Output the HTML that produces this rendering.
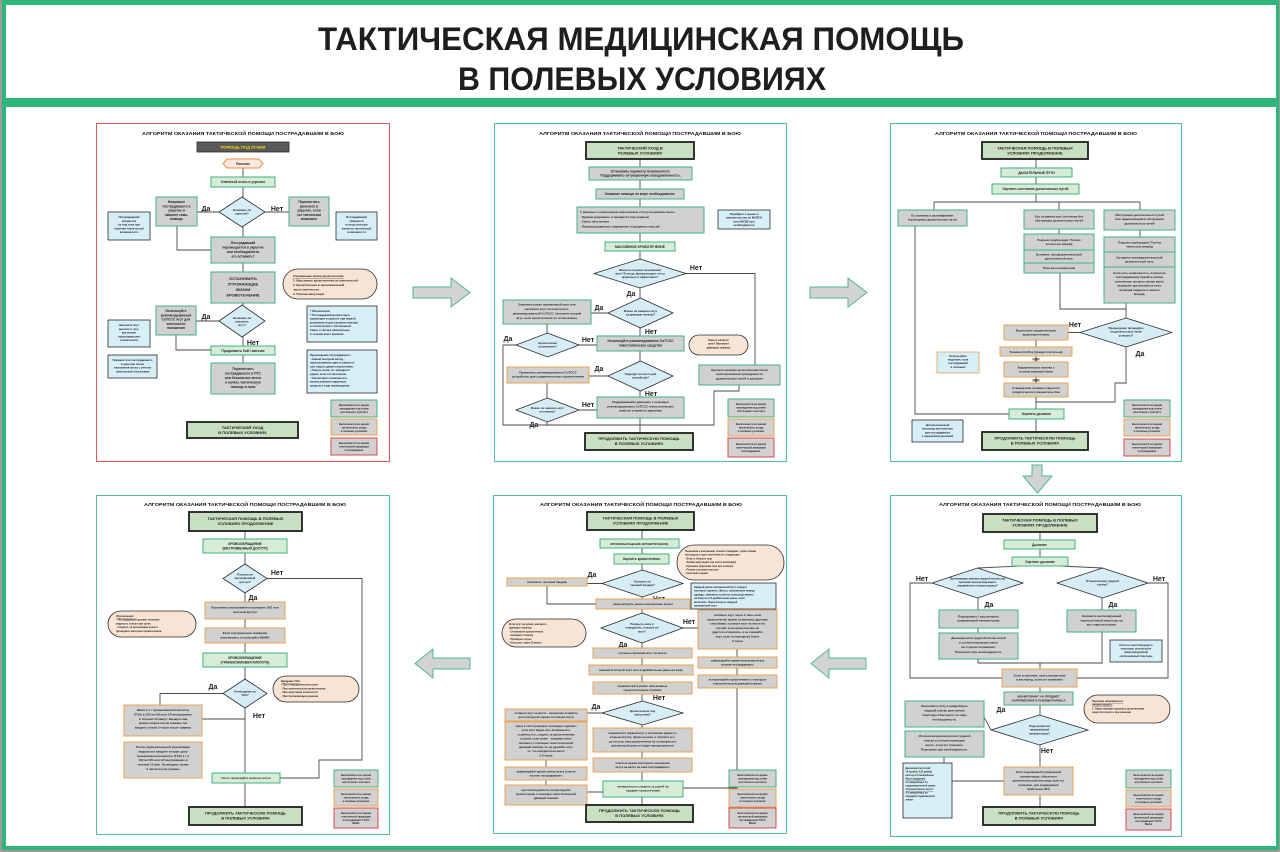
<!DOCTYPE html>
<html><head><meta charset="utf-8">
<style>
html,body{margin:0;padding:0;background:#9c9c9c;}
svg{display:block;}
text{font-family:"Liberation Sans",sans-serif;}
.pt{font-weight:bold;font-size:4.8px;fill:#111;text-anchor:middle;}
.s{font-weight:bold;font-size:3.3px;fill:#222;text-anchor:middle;}
.sl{font-weight:bold;font-size:3px;fill:#222;}
.h{font-weight:bold;font-size:4px;fill:#222;text-anchor:middle;}
.lb{font-weight:bold;font-size:7px;fill:#222;text-anchor:middle;}
.lg2{font-weight:bold;font-size:2.6px;fill:#222;text-anchor:middle;}
.g{fill:#d1d1d1;stroke:#3fb27e;stroke-width:1;}
.l{fill:#d6ecd7;stroke:#3fb27e;stroke-width:1;}
.hd{fill:#c8e0c1;stroke:#1e1e1e;stroke-width:1.8;}
.b{fill:#d6eef6;stroke:#2b2b2b;stroke-width:0.8;}
.o{fill:#d1d1d1;stroke:#eca154;stroke-width:1;}
.r{fill:#d1d1d1;stroke:#d94848;stroke-width:1;}
.d{fill:#d6edf5;stroke:#2b2b2b;stroke-width:0.8;}
.ov{fill:#f7e4d4;stroke:#2b2b2b;stroke-width:0.8;}
.ln{fill:none;stroke:#4a4a4a;stroke-width:0.9;}
.pn{fill:#fff;stroke:#55c29b;stroke-width:1;}
.ar{fill:#d3d3d3;stroke:#4fb98a;stroke-width:1;}
</style></head>
<body>
<svg width="1280" height="852" viewBox="0 0 1280 852" xmlns="http://www.w3.org/2000/svg">
<rect x="0" y="0" width="1280" height="852" fill="#9c9c9c"/>
<rect x="2" y="0" width="1277" height="850" fill="#2fb47b"/>
<rect x="6" y="5" width="1270" height="841" fill="#ffffff"/>
<rect x="2" y="98" width="1277" height="9" fill="#2fb47b"/>
<text x="641" y="50" font-size="32" font-weight="bold" fill="#1e1e1e" text-anchor="middle" textLength="646" lengthAdjust="spacingAndGlyphs">ТАКТИЧЕСКАЯ МЕДИЦИНСКАЯ ПОМОЩЬ</text>
<text x="642" y="90" font-size="32" font-weight="bold" fill="#1e1e1e" text-anchor="middle" textLength="368" lengthAdjust="spacingAndGlyphs">В ПОЛЕВЫХ УСЛОВИЯХ</text>

<!-- arrows between panels -->
<polygon class="ar" points="413,287 451,287 451,278 470,292.5 451,307 451,298 413,298"/>
<polygon class="ar" points="810,287 848,287 848,278 867,292.5 848,307 848,298 810,298"/>
<polygon class="ar" points="1032,465 1042,465 1042,476 1052,476 1037.5,493 1023,476 1032,476"/>
<polygon class="ar" points="866,658 829,658 829,649 811,663.5 829,678 829,669 866,669"/>
<polygon class="ar" points="470,658 433,658 433,649 415,663.5 433,678 433,669 470,669"/>

<!-- ================= PANEL 1 ================= -->
<g transform="translate(96,123)">
<rect x="0.5" y="0.5" width="293" height="338" fill="#fff" stroke="#e05858" stroke-width="1"/>
<text class="pt" x="147" y="12" textLength="202" lengthAdjust="spacingAndGlyphs">АЛГОРИТМ ОКАЗАНИЯ ТАКТИЧЕСКОЙ ПОМОЩИ ПОСТРАДАВШИМ В БОЮ</text>
<path class="ln" d="M147 45V54 M147 64V74 M147 104V114 M147 140V149 M147 180V182 M147 214V223 M147 232V240 M123 89H101 M169 89H193 M81 103V127H115 M123 198H100 M80 212V227H115"/>
<rect x="101" y="19" width="92" height="10" fill="#5a5a5a" stroke="#2a2a2a" stroke-width="0.8"/>
<text class="h" x="147" y="25.6" fill="#f3e300" style="fill:#f3e300">ПОМОЩЬ ПОД ОГНЕМ</text>
<polygon points="131,36 163,36 167,40.5 163,45 131,45 127,40.5" fill="#fbe9e0" stroke="#f08a4b" stroke-width="1"/>
<text class="s" x="147" y="41.8">Ранение</text>
<rect class="l" x="115" y="54" width="64" height="10"/>
<text class="s" x="147" y="60.2">Ответный огонь и укрытие</text>
<polygon class="d" points="146,74 169,89 146,104 123,89"/>
<text class="s" x="146" y="88" style="font-size:2.8px">Возможно ли</text><text class="s" x="146" y="91.5" style="font-size:2.8px">укрытие?</text>
<text class="lb" x="110" y="88">Да</text><text class="lb" x="181" y="88">Нет</text>
<rect class="g" x="60" y="74" width="41" height="29"/>
<text class="s" x="80.5" y="80"><tspan x="80.5">Направьте</tspan><tspan x="80.5" dy="4.3">пострадавшего в</tspan><tspan x="80.5" dy="4.3">укрытие и</tspan><tspan x="80.5" dy="4.3">окажите само-</tspan><tspan x="80.5" dy="4.3">помощь</tspan></text>
<rect class="g" x="193" y="74" width="40" height="29"/>
<text class="s" x="213" y="80"><tspan x="213">Переместить</tspan><tspan x="213" dy="4.3">раненого в</tspan><tspan x="213" dy="4.3">укрытие, если</tspan><tspan x="213" dy="4.3">это тактически</tspan><tspan x="213" dy="4.3">возможно</tspan></text>
<rect class="b" x="12" y="89" width="42" height="28"/>
<text class="s" x="33" y="95" style="font-size:2.8px"><tspan x="33">Пострадавший</tspan><tspan x="33" dy="3.8">убирается</tspan><tspan x="33" dy="3.8">из-под огня при</tspan><tspan x="33" dy="3.8">наличии тактической</tspan><tspan x="33" dy="3.8">возможности</tspan></text>
<rect class="b" x="240" y="89" width="41" height="28"/>
<text class="s" x="260.5" y="95" style="font-size:2.8px"><tspan x="260.5">Пострадавший</tspan><tspan x="260.5" dy="3.8">убирается</tspan><tspan x="260.5" dy="3.8">из-под огня при</tspan><tspan x="260.5" dy="3.8">наличии тактической</tspan><tspan x="260.5" dy="3.8">возможности</tspan></text>
<rect class="g" x="115" y="114" width="64" height="26"/>
<text class="s" x="147" y="121"><tspan x="147">Пострадавший</tspan><tspan x="147" dy="4.5">перемещается в укрытие</tspan><tspan x="147" dy="4.5">или необходимости</tspan><tspan x="147" dy="4.5">его оставить?</tspan></text>
<rect class="g" x="115" y="149" width="64" height="31"/>
<text class="h" x="147" y="157"><tspan x="147">ОСТАНОВИТЬ</tspan><tspan x="147" dy="5.5">УГРОЖАЮЩЕЕ</tspan><tspan x="147" dy="5.5">ЖИЗНИ</tspan><tspan x="147" dy="5.5">КРОВОТЕЧЕНИЕ</tspan></text>
<rect class="ov" x="187" y="146" width="94" height="30" rx="15"/>
<text class="sl" x="197" y="154"><tspan x="197" text-decoration="underline">Угрожающее жизни кровотечение:</tspan><tspan x="197" dy="4.5">1. Массивное кровотечение из конечностей</tspan><tspan x="197" dy="4.5">2. Кровотечение в проксимальной</tspan><tspan x="197" dy="4.5">части конечности</tspan><tspan x="197" dy="4.5">3. Полная ампутация</tspan></text>
<polygon class="d" points="146,182 169,198 146,214 123,198"/>
<text class="s" x="146" y="196" style="font-size:2.8px"><tspan x="146">Возможно ли</tspan><tspan x="146" dy="3.6">наложить</tspan><tspan x="146" dy="3.6">жгут?</tspan></text>
<text class="lb" x="110" y="196">Да</text><text class="lb" x="157" y="222">Нет</text>
<rect class="g" x="60" y="183" width="40" height="29"/>
<text class="s" x="80" y="189"><tspan x="80">Используйте</tspan><tspan x="80" dy="4.3">рекомендованный</tspan><tspan x="80" dy="4.3">CoTCCC жгут для</tspan><tspan x="80" dy="4.3">конечности</tspan><tspan x="80" dy="4.3">наложения</tspan></text>
<rect class="b" x="12" y="197" width="42" height="27"/>
<text class="s" x="33" y="203" style="font-size:2.8px"><tspan x="33">Наложите жгут</tspan><tspan x="33" dy="3.8">высоко и туго,</tspan><tspan x="33" dy="3.8">как можно</tspan><tspan x="33" dy="3.8">проксимальнее</tspan><tspan x="33" dy="3.8">к конечности</tspan></text>
<rect class="b" x="12" y="232" width="49" height="23"/>
<text class="s" x="36.5" y="238" style="font-size:2.8px"><tspan x="36.5">Переместите пострадавшего</tspan><tspan x="36.5" dy="3.8">в укрытие после</tspan><tspan x="36.5" dy="3.8">наложения жгута с учётом</tspan><tspan x="36.5" dy="3.8">тактической обстановки</tspan></text>
<rect class="b" x="211" y="183" width="70" height="36"/>
<text class="sl" x="214" y="189" style="font-size:2.7px"><tspan x="214">* Обозначения:</tspan><tspan x="214" dy="3.8">* Пострадавший должен быть</tspan><tspan x="214" dy="3.8">перемещен в укрытие при первой</tspan><tspan x="214" dy="3.8">возможности для оказания помощи</tspan><tspan x="214" dy="3.8">в соответствии с обстановкой.</tspan><tspan x="214" dy="3.8">Связь и тактика обязательны</tspan><tspan x="214" dy="3.8">в течение всего времени.</tspan></text>
<rect class="b" x="211" y="227" width="70" height="43"/>
<text class="sl" x="214" y="233" style="font-size:2.7px"><tspan x="214">Перемещение пострадавшего:</tspan><tspan x="214" dy="3.8">- Самый быстрый метод -</tspan><tspan x="214" dy="3.8">перетаскивание одного раненого</tspan><tspan x="214" dy="3.8">или тащить двумя спасателями.</tspan><tspan x="214" dy="3.8">- Помочь всем, кто находится</tspan><tspan x="214" dy="3.8">рядом, если это безопасно.</tspan><tspan x="214" dy="3.8">- Рассмотрите возможность</tspan><tspan x="214" dy="3.8">использования подручных</tspan><tspan x="214" dy="3.8">средств в ходе перемещения.</tspan></text>
<rect class="l" x="115" y="223" width="64" height="9"/>
<text class="s" x="147" y="228.8">Продолжить бой / миссию</text>
<rect class="g" x="115" y="240" width="64" height="31"/>
<text class="s" x="147" y="247"><tspan x="147">Переместить</tspan><tspan x="147" dy="4.5">пострадавшего в ПТС</tspan><tspan x="147" dy="4.5">или безопасное место</tspan><tspan x="147" dy="4.5">и начать тактическую</tspan><tspan x="147" dy="4.5">помощь в поле</tspan></text>
<rect class="g" x="235" y="277" width="46" height="17"/>
<text class="lg2" x="258" y="283"><tspan x="258">Выполняется во время</tspan><tspan x="258" dy="3.4">нахождения под огнём</tspan><tspan x="258" dy="3.4">или боевого контакта</tspan></text>
<rect class="o" x="235" y="296" width="46" height="16"/>
<text class="lg2" x="258" y="302"><tspan x="258">Выполняется во время</tspan><tspan x="258" dy="3.4">тактического ухода</tspan><tspan x="258" dy="3.4">в полевых условиях</tspan></text>
<rect class="r" x="235" y="315" width="46" height="17"/>
<text class="lg2" x="258" y="321"><tspan x="258">Выполняется во время</tspan><tspan x="258" dy="3.4">тактической эвакуации</tspan><tspan x="258" dy="3.4">пострадавших</tspan></text>
<rect class="hd" x="91" y="299" width="111" height="16"/>
<text class="h" x="146.5" y="306"><tspan x="146.5">ТАКТИЧЕСКИЙ УХОД</tspan><tspan x="146.5" dy="5">В ПОЛЕВЫХ УСЛОВИЯХ</tspan></text>
</g>

<!-- ================= PANEL 2 ================= -->
<g transform="translate(494,123)">
<rect class="pn" x="0.5" y="0.5" width="292" height="338"/>
<text class="pt" x="146" y="12" textLength="202" lengthAdjust="spacingAndGlyphs">АЛГОРИТМ ОКАЗАНИЯ ТАКТИЧЕСКОЙ ПОМОЩИ ПОСТРАДАВШИМ В БОЮ</text>
<path class="ln" d="M146 36V44 M146 57V66 M146 76V84 M146 110V119 M146 128V136 M146 165V175 M146 205V213 M146 228V238 M146 268V274 M146 295V310 M192 150.5H261V242 M114 190H97 M53 201V210 M85 222H103 M22 222H9V302H146 M114 253H95 M53 260V275 M85 287H103 M53 299V302 M245 262V268H220V302H146"/>
<rect class="hd" x="92" y="19" width="108" height="17"/>
<text class="h" x="146" y="26.5"><tspan x="146">ТАКТИЧЕСКИЙ УХОД В</tspan><tspan x="146" dy="5">ПОЛЕВЫХ УСЛОВИЯХ</tspan></text>
<rect class="g" x="95" y="44" width="103" height="13"/>
<text class="s" x="146.5" y="49.5"><tspan x="146.5">Установить периметр безопасности.</tspan><tspan x="146.5" dy="4.2">Поддерживать ситуационную осведомленность.</tspan></text>
<rect class="g" x="102" y="66" width="88" height="10"/>
<text class="s" x="146" y="72.2">Оказание помощи по мере необходимости.</text>
<rect class="g" x="83" y="84" width="127" height="26"/>
<text class="sl" x="86" y="90"><tspan x="86">У раненых с измененным психическим статусом должны быть:</tspan><tspan x="86" dy="4.8">- Оружие разряжено и находится под охраной</tspan><tspan x="86" dy="4.8">- Связь обеспечена</tspan><tspan x="86" dy="4.8">- Перераспределено снаряжение и предметы миссий</tspan></text>
<rect class="b" x="224" y="87" width="52" height="19"/>
<text class="s" x="250" y="92" style="font-size:2.7px"><tspan x="250">Перейдите к оценке и</tspan><tspan x="250" dy="3.7">вмешательству по MARCH</tspan><tspan x="250" dy="3.7">или ABCDE при</tspan><tspan x="250" dy="3.7">необходимости</tspan></text>
<rect class="l" x="111" y="119" width="70" height="9"/>
<text class="s" x="146" y="124.8">МАССИВНОЕ КРОВОТЕЧЕНИЕ</text>
<polygon class="d" points="146,136 192,150.5 146,165 100,150.5"/>
<text class="s" x="146" y="148" style="font-size:2.7px"><tspan x="146">Имеется ли ранее наложенный</tspan><tspan x="146" dy="3.6">жгут? Если да, функционирует ли он</tspan><tspan x="146" dy="3.6">правильно и эффективно?</tspan></text>
<text class="lb" x="202" y="147">Нет</text><text class="lb" x="137" y="173">Да</text>
<polygon class="d" points="146.5,175 179,190 146.5,205 114,190"/>
<text class="s" x="146.5" y="189" style="font-size:2.7px"><tspan x="146.5">Можно ли заменить жгут</tspan><tspan x="146.5" dy="3.6">на давящую повязку?</tspan></text>
<text class="lb" x="105" y="187">Да</text><text class="lb" x="157" y="211">Нет</text>
<rect class="g" x="9" y="177" width="88" height="24"/>
<text class="s" x="53" y="182.5" style="font-size:3px"><tspan x="53">Замените ранее наложенный жгут или</tspan><tspan x="53" dy="4.5">наложите жгут на конечность,</tspan><tspan x="53" dy="4.5">рекомендованный CoTCCC. Наложите второй</tspan><tspan x="53" dy="4.5">жгут, если кровотечение не остановлено.</tspan></text>
<polygon class="d" points="53.5,210 85,222 53.5,234 22,222"/>
<text class="s" x="53.5" y="221" style="font-size:2.7px"><tspan x="53.5">Кровотечение</tspan><tspan x="53.5" dy="3.6">остановлено?</tspan></text>
<text class="lb" x="14" y="218">Да</text><text class="lb" x="94" y="219">Нет</text>
<rect class="g" x="103" y="213" width="87" height="15"/>
<text class="s" x="146.5" y="219"><tspan x="146.5">Используйте рекомендованное CoTCCC</tspan><tspan x="146.5" dy="4.3">гемостатическое средство</tspan></text>
<rect class="ov" x="195" y="212" width="59" height="20" rx="10"/>
<text class="s" x="224.5" y="218" style="font-size:2.7px"><tspan x="224.5">Рана в области</tspan><tspan x="224.5" dy="3.7">шеи? Наложите</tspan><tspan x="224.5" dy="3.7">давящую повязку</tspan></text>
<polygon class="d" points="146.5,238 179,253 146.5,268 114,253"/>
<text class="s" x="146.5" y="252" style="font-size:2.7px"><tspan x="146.5">Подходит ли место для</tspan><tspan x="146.5" dy="3.6">устройства?</tspan></text>
<text class="lb" x="105" y="248">Да</text><text class="lb" x="157" y="273">Нет</text>
<rect class="o" x="13" y="244" width="82" height="16"/>
<text class="s" x="54" y="250.5" style="font-size:3px"><tspan x="54">Применить рекомендованное CoTCCC</tspan><tspan x="54" dy="4.2">устройство для соединительного кровотечения</tspan></text>
<rect class="g" x="205" y="242" width="81" height="20"/>
<text class="s" x="245.5" y="248" style="font-size:3px"><tspan x="245.5">Оцените наличие кровотечения после</tspan><tspan x="245.5" dy="4.2">восстановления проходимости</tspan><tspan x="245.5" dy="4.2">дыхательных путей и дыхания</tspan></text>
<polygon class="d" points="53.5,275 85,287 53.5,299 22,287"/>
<text class="s" x="53.5" y="286" style="font-size:2.7px"><tspan x="53.5">Можно ли заменить жгут</tspan><tspan x="53.5" dy="3.6">на повязку?</tspan></text>
<text class="lb" x="94" y="284">Нет</text><text class="lb" x="40" y="304">Да</text>
<rect class="g" x="103" y="274" width="87" height="21"/>
<text class="s" x="146.5" y="280" style="font-size:3px"><tspan x="146.5">Поддерживайте давление с помощью</tspan><tspan x="146.5" dy="4.3">рекомендованных CoTCCC гемостатических</tspan><tspan x="146.5" dy="4.3">повязок и прямого давления</tspan></text>
<rect class="g" x="234" y="276" width="46" height="18"/>
<text class="lg2" x="257" y="282"><tspan x="257">Выполняется во время</tspan><tspan x="257" dy="3.4">нахождения под огнём</tspan><tspan x="257" dy="3.4">или боевого контакта</tspan></text>
<rect class="o" x="234" y="296" width="46" height="17"/>
<text class="lg2" x="257" y="302"><tspan x="257">Выполняется во время</tspan><tspan x="257" dy="3.4">тактического ухода</tspan><tspan x="257" dy="3.4">в полевых условиях</tspan></text>
<rect class="r" x="234" y="315" width="46" height="19"/>
<text class="lg2" x="257" y="322"><tspan x="257">Выполняется во время</tspan><tspan x="257" dy="3.4">тактической эвакуации</tspan><tspan x="257" dy="3.4">пострадавших</tspan></text>
<rect class="hd" x="91" y="310" width="108" height="17"/>
<text class="h" x="145" y="317.2"><tspan x="145">ПРОДОЛЖИТЬ ТАКТИЧЕСКУЮ ПОМОЩЬ</tspan><tspan x="145" dy="5">В ПОЛЕВЫХ УСЛОВИЯХ</tspan></text>
</g>

<!-- ================= PANEL 3 ================= -->
<g transform="translate(890,123)">
<rect class="pn" x="0.5" y="0.5" width="291" height="338"/>
<text class="pt" x="146" y="12" textLength="202" lengthAdjust="spacingAndGlyphs">АЛГОРИТМ ОКАЗАНИЯ ТАКТИЧЕСКОЙ ПОМОЩИ ПОСТРАДАВШИМ В БОЮ</text>
<path class="ln" d="M146 36V45 M146 54V61 M146 71V79 M44 79H250 M44 79V87 M169 79V87 M250 79V87 M169 106V111 M250 107V114 M170 150V186H236 M236 180V195 M190 209.5H178 M146 217V224 M146 233V239 M146 254V260 M146 274V286 M236 224V260H225V279H146 M25 103V291H119 M146 296V309"/>
<rect class="hd" x="92" y="19" width="106" height="17"/>
<text class="h" x="145" y="26.5"><tspan x="145">ТАКТИЧЕСКАЯ ПОМОЩЬ В ПОЛЕВЫХ</tspan><tspan x="145" dy="5">УСЛОВИЯХ ПРОДОЛЖЕНИЕ</tspan></text>
<rect class="l" x="111" y="45" width="71" height="9"/>
<text class="s" x="146.5" y="50.8">ДЫХАТЕЛЬНЫЕ ПУТИ</text>
<rect class="l" x="102" y="61" width="87" height="10"/>
<text class="s" x="145.5" y="67.2">Оценить состояние дыхательных путей</text>
<rect class="g" x="8" y="87" width="69" height="16"/>
<text class="s" x="42.5" y="93.5" style="font-size:3px"><tspan x="42.5">В сознании и разговаривает</tspan><tspan x="42.5" dy="4.2">(проходимы дыхательные пути)</tspan></text>
<rect class="g" x="134" y="87" width="70" height="19"/>
<text class="s" x="169" y="94.5" style="font-size:3px"><tspan x="169">Без сознания или состояние без</tspan><tspan x="169" dy="4.2">обструкции дыхательных путей</tspan></text>
<rect class="g" x="214" y="87" width="71" height="20"/>
<text class="s" x="249.5" y="93" style="font-size:3px"><tspan x="249.5">Обструкция дыхательных путей</tspan><tspan x="249.5" dy="4.2">или надвигающаяся обструкция</tspan><tspan x="249.5" dy="4.2">дыхательных путей</tspan></text>
<rect class="g" x="134" y="111" width="70" height="16"/>
<rect class="g" x="134" y="127" width="70" height="13"/>
<rect class="g" x="134" y="140" width="70" height="10"/>
<text class="s" x="169" y="118" style="font-size:3px"><tspan x="169">Подъем подбородка / Толчок</tspan><tspan x="169" dy="4">челюстью вперёд</tspan></text>
<text class="s" x="169" y="132.5" style="font-size:3px"><tspan x="169">Вставить назофарингеальный</tspan><tspan x="169" dy="4">дыхательный путь</tspan></text>
<text class="s" x="169" y="146" style="font-size:3px">Поза восстановления</text>
<rect class="g" x="214" y="114" width="71" height="15"/>
<rect class="g" x="214" y="129" width="71" height="15"/>
<rect class="g" x="214" y="144" width="71" height="36"/>
<text class="s" x="249.5" y="120.5" style="font-size:3px"><tspan x="249.5">Подъем подбородка / Толчок</tspan><tspan x="249.5" dy="4">челюстью вперёд</tspan></text>
<text class="s" x="249.5" y="135.5" style="font-size:3px"><tspan x="249.5">Вставить назофарингеальный</tspan><tspan x="249.5" dy="4">дыхательный путь</tspan></text>
<text class="s" x="249.5" y="151" style="font-size:3px"><tspan x="249.5">Если есть возможность, позвольте</tspan><tspan x="249.5" dy="4.2">пострадавшему принять любое</tspan><tspan x="249.5" dy="4.2">положение, которое лучше всего</tspan><tspan x="249.5" dy="4.2">защищает дыхательные пути,</tspan><tspan x="249.5" dy="4.2">включая сидение и наклон</tspan><tspan x="249.5" dy="4.2">вперёд.</tspan></text>
<polygon class="d" points="236,195 282,209.5 236,224 190,209.5"/>
<text class="s" x="236" y="206" style="font-size:2.8px"><tspan x="236">Предыдущие процедуры</tspan><tspan x="236" dy="3.7">на дыхательных путях</tspan><tspan x="236" dy="3.7">успешны?</tspan></text>
<text class="lb" x="185" y="204">Нет</text><text class="lb" x="250" y="233">Да</text>
<rect class="o" x="114" y="202" width="64" height="15"/>
<text class="s" x="146" y="208.5" style="font-size:3px"><tspan x="146">Выполните хирургическую</tspan><tspan x="146" dy="4">крикотиреотомию</tspan></text>
<rect class="o" x="110" y="224" width="72" height="9"/>
<text class="s" x="146" y="229.8" style="font-size:3px">Техника CricKey (предпочтительна)</text>
<text class="s" x="146" y="237.5">ИЛИ</text>
<rect class="o" x="114" y="239" width="64" height="15"/>
<text class="s" x="146" y="245.5" style="font-size:3px"><tspan x="146">Хирургическая техника с</tspan><tspan x="146" dy="4">использованием бужа</tspan></text>
<text class="s" x="146" y="258.5">ИЛИ</text>
<rect class="o" x="114" y="260" width="64" height="14"/>
<text class="s" x="146" y="266" style="font-size:3px"><tspan x="146">Стандартная техника открытого</tspan><tspan x="146" dy="4">хирургического вмешательства</tspan></text>
<rect x="47" y="229" width="42" height="21" fill="#d6eef6" stroke="#eca154" stroke-width="0.8"/>
<text class="s" x="68" y="234" style="font-size:2.7px"><tspan x="68">Используйте</tspan><tspan x="68" dy="3.6">лидокаин, если</tspan><tspan x="68" dy="3.6">пострадавший</tspan><tspan x="68" dy="3.6">в сознании</tspan></text>
<rect class="l" x="119" y="286" width="55" height="10"/>
<text class="s" x="146.5" y="292.2">Оценить дыхание</text>
<rect class="b" x="22" y="297" width="51" height="22"/>
<text class="s" x="47.5" y="303" style="font-size:2.7px"><tspan x="47.5">Дополнительный</tspan><tspan x="47.5" dy="3.7">кислород при наличии</tspan><tspan x="47.5" dy="3.7">для пострадавших</tspan><tspan x="47.5" dy="3.7">с нарушением дыхания</tspan></text>
<rect class="g" x="234" y="277" width="46" height="17"/>
<text class="lg2" x="257" y="283"><tspan x="257">Выполняется во время</tspan><tspan x="257" dy="3.4">нахождения под огнём</tspan><tspan x="257" dy="3.4">или боевого контакта</tspan></text>
<rect class="o" x="234" y="296" width="46" height="17"/>
<text class="lg2" x="257" y="302"><tspan x="257">Выполняется во время</tspan><tspan x="257" dy="3.4">тактического ухода</tspan><tspan x="257" dy="3.4">в полевых условиях</tspan></text>
<rect class="r" x="234" y="316" width="46" height="17"/>
<text class="lg2" x="257" y="322"><tspan x="257">Выполняется во время</tspan><tspan x="257" dy="3.4">тактической эвакуации</tspan><tspan x="257" dy="3.4">пострадавших</tspan></text>
<rect class="hd" x="92" y="309" width="106" height="18"/>
<text class="h" x="145" y="316.5"><tspan x="145">ПРОДОЛЖИТЬ ТАКТИЧЕСКУЮ ПОМОЩЬ</tspan><tspan x="145" dy="5">В ПОЛЕВЫХ УСЛОВИЯХ</tspan></text>
</g>

<!-- ================= PANEL 4 ================= -->
<g transform="translate(96,495)">
<rect class="pn" x="0.5" y="0.5" width="293" height="339"/>
<text class="pt" x="149" y="11" textLength="202" lengthAdjust="spacingAndGlyphs">АЛГОРИТМ ОКАЗАНИЯ ТАКТИЧЕСКОЙ ПОМОЩИ ПОСТРАДАВШИМ В БОЮ</text>
<path class="ln" d="M149 36V44 M149 58V69 M149 98V107 M149 124V133 M149 148V158 M149 172V184 M149 213V278 M149 288V312 M171 83.5H266V265H223V283H184 M127 198.5H64V210 M106 224H149"/>
<rect class="hd" x="93" y="17" width="113" height="19"/>
<text class="h" x="149.5" y="25"><tspan x="149.5">ТАКТИЧЕСКАЯ ПОМОЩЬ В ПОЛЕВЫХ</tspan><tspan x="149.5" dy="5">УСЛОВИЯХ ПРОДОЛЖЕНИЕ</tspan></text>
<rect class="l" x="107" y="44" width="84" height="14"/>
<text class="s" x="149" y="50"><tspan x="149">КРОВООБРАЩЕНИЕ</tspan><tspan x="149" dy="4.3">(ВНУТРИВЕННЫЙ ДОСТУП)</tspan></text>
<polygon class="d" points="149,69 171,83.5 149,98 127,83.5"/>
<text class="s" x="149" y="80.5" style="font-size:2.8px"><tspan x="149">Показан ли</tspan><tspan x="149" dy="3.7">внутривенный</tspan><tspan x="149" dy="3.7">доступ?</tspan></text>
<text class="lb" x="181" y="80">Нет</text><text class="lb" x="157" y="105">Да</text>
<rect class="o" x="109" y="107" width="80" height="17"/>
<text class="s" x="149" y="113.5" style="font-size:3px"><tspan x="149">Выполнить внутривенное вливание 18G или</tspan><tspan x="149" dy="4.3">костный доступ</tspan></text>
<rect class="ov" x="12" y="116" width="88" height="26" rx="13"/>
<text class="sl" x="20" y="122" style="font-size:2.6px"><tspan x="20" text-decoration="underline">Обозначения:</tspan><tspan x="20" dy="3.7">- Пострадавший должен получать</tspan><tspan x="20" dy="3.7">жидкость только при шоке.</tspan><tspan x="20" dy="3.7">- Следить за признаками шока и</tspan><tspan x="20" dy="3.7">проводить контроль кровотечения.</tspan></text>
<rect class="o" x="109" y="133" width="80" height="15"/>
<text class="s" x="149" y="139" style="font-size:3px"><tspan x="149">Если внутривенное вливание</tspan><tspan x="149" dy="4.3">невозможно, используйте ВК/ИО</tspan></text>
<rect class="l" x="107" y="158" width="84" height="14"/>
<text class="s" x="149" y="164"><tspan x="149">КРОВООБРАЩЕНИЕ</tspan><tspan x="149" dy="4.3">(ТРАНЕКСАМОВАЯ КИСЛОТА)</tspan></text>
<rect class="ov" x="177" y="181" width="86" height="26" rx="13"/>
<text class="sl" x="185" y="187" style="font-size:2.6px"><tspan x="185" text-decoration="underline">Введение ТХА:</tspan><tspan x="185" dy="3.7">- При геморрагическом шоке</tspan><tspan x="185" dy="3.7">- При значительном кровотечении</tspan><tspan x="185" dy="3.7">- При ампутации конечности</tspan><tspan x="185" dy="3.7">- При проникающем ранении</tspan></text>
<polygon class="d" points="149,184 171,198.5 149,213 127,198.5"/>
<text class="s" x="149" y="197.5" style="font-size:2.8px"><tspan x="149">Необходима ли</tspan><tspan x="149" dy="3.7">ТХА?</tspan></text>
<text class="lb" x="117" y="194">Да</text><text class="lb" x="163" y="223">Нет</text>
<rect class="o" x="28" y="210" width="78" height="31"/>
<text class="s" x="67" y="216" style="font-size:3px"><tspan x="67">Ввести 1 г транексамовой кислоты</tspan><tspan x="67" dy="4.4">(ТХА) в 100 мл NS или LR внутривенно</tspan><tspan x="67" dy="4.4">в течение 10 минут. Вводить как</tspan><tspan x="67" dy="4.4">можно скорее после травмы. Не</tspan><tspan x="67" dy="4.4">вводить позже 3 часов после травмы</tspan></text>
<rect class="o" x="28" y="247" width="78" height="36"/>
<text class="s" x="67" y="253" style="font-size:3px"><tspan x="67">После первоначальной реанимации</tspan><tspan x="67" dy="4.4">жидкостью введите вторую дозу</tspan><tspan x="67" dy="4.4">транексамовой кислоты (ТХА) 1 г в</tspan><tspan x="67" dy="4.4">100 мл NS или LR внутривенно в</tspan><tspan x="67" dy="4.4">течение 10 мин. Не вводить позже</tspan><tspan x="67" dy="4.4">3 часов после травмы</tspan></text>
<rect class="l" x="116" y="278" width="68" height="10"/>
<text class="s" x="150" y="284.2" style="font-size:3px">Часто проверяйте наличие жгута</text>
<rect class="g" x="238" y="275" width="44" height="17"/>
<text class="lg2" x="260" y="281"><tspan x="260">Выполняется во время</tspan><tspan x="260" dy="3.4">нахождения под огнём</tspan><tspan x="260" dy="3.4">или боевого контакта</tspan></text>
<rect class="o" x="238" y="294" width="44" height="17"/>
<text class="lg2" x="260" y="300"><tspan x="260">Выполняется во время</tspan><tspan x="260" dy="3.4">тактического ухода</tspan><tspan x="260" dy="3.4">в полевых условиях</tspan></text>
<rect class="r" x="238" y="313" width="44" height="20"/>
<text class="lg2" x="260" y="319"><tspan x="260">Выполняется во время</tspan><tspan x="260" dy="3.4">тактической эвакуации</tspan><tspan x="260" dy="3.4">пострадавших TCCC</tspan><tspan x="260" dy="3.4">Medic</tspan></text>
<rect class="hd" x="93" y="312" width="113" height="18"/>
<text class="h" x="149.5" y="319.5"><tspan x="149.5">ПРОДОЛЖИТЬ ТАКТИЧЕСКУЮ ПОМОЩЬ</tspan><tspan x="149.5" dy="5">В ПОЛЕВЫХ УСЛОВИЯХ</tspan></text>
</g>

<!-- ================= PANEL 5 ================= -->
<g transform="translate(493,495)">
<rect class="pn" x="0.5" y="0.5" width="293" height="338"/>
<text class="pt" x="148" y="11" textLength="202" lengthAdjust="spacingAndGlyphs">АЛГОРИТМ ОКАЗАНИЯ ТАКТИЧЕСКОЙ ПОМОЩИ ПОСТРАДАВШИМ В БОЮ</text>
<path class="ln" d="M149 35V44 M149 53V59 M149 69V75 M149 102V104 M149 114V118 M149 148V153 M149 163V170 M149 180V187 M149 199V206 M149 230V233 M149 257V263 M149 277V286 M149 302V310 M109 88.5H94 M54 91V109H103 M190 133H205 M244 154V162 M244 173V180 M244 193V293H190 M109 218H94 M53 226V227 M53 265V272 M53 285V290 M94 297H110"/>
<rect class="hd" x="94" y="17" width="107" height="18"/>
<text class="h" x="147.5" y="24.5"><tspan x="147.5">ТАКТИЧЕСКАЯ ПОМОЩЬ В ПОЛЕВЫХ</tspan><tspan x="147.5" dy="5">УСЛОВИЯХ ПРОДОЛЖЕНИЕ</tspan></text>
<rect class="l" x="107" y="44" width="79" height="9"/>
<text class="s" x="146.5" y="49.8" style="font-size:3px">КРОВООБРАЩЕНИЕ (КРОВОТЕЧЕНИЕ)</text>
<rect class="l" x="121" y="59" width="55" height="10"/>
<text class="s" x="148.5" y="65.2">Оценить кровотечение</text>
<rect class="ov" x="184" y="50" width="107" height="35" rx="17"/>
<text class="sl" x="192" y="57" style="font-size:2.5px"><tspan x="192">Показания к наложению тазового бандажа: тупая травма</tspan><tspan x="192" dy="3.7">или взрыв и одно или более из следующих:</tspan><tspan x="192" dy="3.7">- Боль в области таза</tspan><tspan x="192" dy="3.7">- Любая ампутация или почти ампутация</tspan><tspan x="192" dy="3.7">- Признаки перелома таза при осмотре</tspan><tspan x="192" dy="3.7">- Потеря сознания или шок</tspan><tspan x="192" dy="3.7">- Неполная оценка</tspan></text>
<polygon class="d" points="149.5,75 190,88.5 149.5,102 109,88.5"/>
<text class="s" x="149.5" y="87.5" style="font-size:2.8px"><tspan x="149.5">Наложен ли</tspan><tspan x="149.5" dy="3.7">тазовый бандаж?</tspan></text>
<text class="lb" x="99" y="82">Да</text><text class="lb" x="166" y="106">Нет</text>
<rect class="o" x="14" y="83" width="80" height="8"/>
<text class="s" x="54" y="88.2" style="font-size:3px">наложить тазовый бандаж</text>
<rect class="b" x="198" y="88" width="85" height="26"/>
<text class="sl" x="201" y="93" style="font-size:2.6px"><tspan x="201">Каждый ранее наложенный жгут следует</tspan><tspan x="201" dy="3.7">повторно оценить. Жгуты, наложенные поверх</tspan><tspan x="201" dy="3.7">одежды, заменить на жгуты непосредственно</tspan><tspan x="201" dy="3.7">на кожу на 2-3 дюйма выше раны, если</tspan><tspan x="201" dy="3.7">возможно. Пересмотреть каждый</tspan><tspan x="201" dy="3.7">наложенный жгут.</tspan></text>
<rect class="o" x="103" y="104" width="94" height="10"/>
<text class="s" x="150" y="110.2" style="font-size:3px">пересмотреть ранее наложенные жгуты</text>
<rect class="ov" x="9" y="124" width="84" height="28" rx="14"/>
<text class="sl" x="16" y="130" style="font-size:2.5px"><tspan x="16">Если жгут не нужен, наложите</tspan><tspan x="16" dy="3.7">давящую повязку:</tspan><tspan x="16" dy="3.7">- Остановите кровотечение</tspan><tspan x="16" dy="3.7">- Наложите повязку</tspan><tspan x="16" dy="3.7">- Проверьте пульс</tspan><tspan x="16" dy="3.7">- Контроль через 15 минут</tspan></text>
<polygon class="d" points="149,118 190,133 149,148 108,133"/>
<text class="s" x="149" y="130" style="font-size:2.8px"><tspan x="149">Раскрыть рану и</tspan><tspan x="149" dy="3.7">определить, показан ли</tspan><tspan x="149" dy="3.7">жгут?</tspan></text>
<text class="lb" x="196" y="129">Нет</text><text class="lb" x="130" y="152">Да</text>
<rect class="o" x="205" y="115" width="79" height="39"/>
<text class="s" x="244.5" y="121" style="font-size:2.9px"><tspan x="244.5">ослабьте жгут через 2 часа, если</tspan><tspan x="244.5" dy="4.3">кровотечение можно остановить другими</tspan><tspan x="244.5" dy="4.3">способами, оставьте жгут на месте на</tspan><tspan x="244.5" dy="4.3">случай, если кровотечение не</tspan><tspan x="244.5" dy="4.3">удастся остановить, и не снимайте</tspan><tspan x="244.5" dy="4.3">жгут, если он находится более</tspan><tspan x="244.5" dy="4.3">6 часов</tspan></text>
<rect class="o" x="100" y="153" width="99" height="10"/>
<text class="s" x="149.5" y="159.2" style="font-size:3px">оставьте прежний жгут на месте</text>
<rect class="o" x="96" y="170" width="104" height="10"/>
<text class="s" x="148" y="176.2" style="font-size:3px">наложите второй жгут на 2-3 дюйма выше раны на кожу</text>
<rect class="o" x="100" y="187" width="99" height="12"/>
<text class="s" x="149.5" y="192" style="font-size:3px"><tspan x="149.5">пересмотрите ранее наложенные</tspan><tspan x="149.5" dy="4">гемостатические повязки</tspan></text>
<rect class="o" x="205" y="162" width="79" height="11"/>
<text class="s" x="244.5" y="166.5" style="font-size:2.8px"><tspan x="244.5">зафиксируйте время наложения жгута</tspan><tspan x="244.5" dy="3.8">на коже пострадавшего</tspan></text>
<rect class="o" x="205" y="180" width="79" height="13"/>
<text class="s" x="244.5" y="185.5" style="font-size:2.8px"><tspan x="244.5">контролируйте кровотечение с помощью</tspan><tspan x="244.5" dy="3.8">гемостатической давящей повязки</tspan></text>
<polygon class="d" points="149.5,206 190,218 149.5,230 109,218"/>
<text class="s" x="149.5" y="217" style="font-size:2.8px"><tspan x="149.5">Кровотечение под</tspan><tspan x="149.5" dy="3.7">контролем?</tspan></text>
<text class="lb" x="103" y="214">Да</text><text class="lb" x="166" y="205">Нет</text>
<rect class="o" x="12" y="214" width="82" height="12"/>
<text class="s" x="53" y="219" style="font-size:2.8px"><tspan x="53">оставьте жгут на месте - наложение ослабить</tspan><tspan x="53" dy="3.8">для повторной оценки состояния жгута</tspan></text>
<rect class="o" x="12" y="227" width="82" height="38"/>
<text class="s" x="53" y="232" style="font-size:2.8px"><tspan x="53">через 2 часа проверьте последнее одеяние:</tspan><tspan x="53" dy="4.2">если жгут виден есть возможность</tspan><tspan x="53" dy="4.2">ослабить его, следить за кровотечением</tspan><tspan x="53" dy="4.2">и раной, если может - вовремя опять</tspan><tspan x="53" dy="4.2">наложите с помощью гемостатической</tspan><tspan x="53" dy="4.2">давящей повязки, но не удаляйте жгут,</tspan><tspan x="53" dy="4.2">то, что находится на месте</tspan><tspan x="53" dy="4.2">2-6 часов</tspan></text>
<rect class="o" x="12" y="272" width="82" height="13"/>
<text class="s" x="53" y="277.5" style="font-size:2.8px"><tspan x="53">зафиксируйте время снятия жгута в месте</tspan><tspan x="53" dy="3.8">на коже пострадавшего</tspan></text>
<rect class="o" x="12" y="290" width="82" height="20"/>
<text class="s" x="53" y="296" style="font-size:2.8px"><tspan x="53">при необходимости контролируйте</tspan><tspan x="53" dy="4">кровотечение с помощью гемостатической</tspan><tspan x="53" dy="4">давящей повязки</tspan></text>
<rect class="o" x="100" y="233" width="99" height="24"/>
<text class="s" x="149.5" y="239" style="font-size:2.8px"><tspan x="149.5">переместите первый жгут в положение рядом со</tspan><tspan x="149.5" dy="4.2">вторым жгутом, прямо на коже, и затяните его,</tspan><tspan x="149.5" dy="4.2">до тех пор, пока кровотечение не остановится и</tspan><tspan x="149.5" dy="4.2">дистальный пульс не будет прощупываться</tspan></text>
<rect class="o" x="100" y="263" width="99" height="14"/>
<text class="s" x="149.5" y="269" style="font-size:2.8px"><tspan x="149.5">отметьте время повторного наложения</tspan><tspan x="149.5" dy="4">жгута на месте на коже пострадавшего</tspan></text>
<rect class="l" x="110" y="286" width="80" height="16"/>
<text class="s" x="150" y="292.5" style="font-size:3px"><tspan x="150">внимательно следите за раной на</tspan><tspan x="150" dy="4.2">предмет кровотечения</tspan></text>
<rect class="g" x="236" y="275" width="47" height="17"/>
<text class="lg2" x="259.5" y="281"><tspan x="259.5">Выполняется во время</tspan><tspan x="259.5" dy="3.4">нахождения под огнём</tspan><tspan x="259.5" dy="3.4">или боевого контакта</tspan></text>
<rect class="o" x="236" y="294" width="47" height="18"/>
<text class="lg2" x="259.5" y="300"><tspan x="259.5">Выполняется во время</tspan><tspan x="259.5" dy="3.4">тактического ухода</tspan><tspan x="259.5" dy="3.4">в полевых условиях</tspan></text>
<rect class="r" x="236" y="313" width="47" height="20"/>
<text class="lg2" x="259.5" y="319"><tspan x="259.5">Выполняется во время</tspan><tspan x="259.5" dy="3.4">тактической эвакуации</tspan><tspan x="259.5" dy="3.4">пострадавших TCCC</tspan><tspan x="259.5" dy="3.4">Medic</tspan></text>
<rect class="hd" x="93" y="310" width="107" height="17"/>
<text class="h" x="146.5" y="317.2"><tspan x="146.5">ПРОДОЛЖИТЬ ТАКТИЧЕСКУЮ ПОМОЩЬ</tspan><tspan x="146.5" dy="5">В ПОЛЕВЫХ УСЛОВИЯХ</tspan></text>
</g>

<!-- ================= PANEL 6 ================= -->
<g transform="translate(890,495)">
<rect class="pn" x="0.5" y="0.5" width="291" height="341"/>
<text class="pt" x="150" y="11" textLength="202" lengthAdjust="spacingAndGlyphs">АЛГОРИТМ ОКАЗАНИЯ ТАКТИЧЕСКОЙ ПОМОЩИ ПОСТРАДАВШИМ В БОЮ</text>
<path class="ln" d="M150 37V45 M150 54V62 M130 71L88 73 M170 71L212 73 M88 103V115 M88 133V138 M212 103V115 M88 164V168H150 M212 137V168H150 M150 168V174 M42 88H20V183H112 M258 88H278V183H187 M150 192V197 M150 210V220 M94 222L101 235 M54 262V286H114 M150 250V272 M150 300V312"/>
<rect class="hd" x="93" y="19" width="114" height="18"/>
<text class="h" x="150" y="26.5"><tspan x="150">ТАКТИЧЕСКАЯ ПОМОЩЬ В ПОЛЕВЫХ</tspan><tspan x="150" dy="5">УСЛОВИЯХ ПРОДОЛЖЕНИЕ</tspan></text>
<rect class="l" x="114" y="45" width="71" height="9"/>
<text class="s" x="149.5" y="50.8">Дыхание</text>
<rect class="l" x="122" y="62" width="56" height="9"/>
<text class="s" x="150" y="67.8">Оценить дыхание</text>
<polygon class="d" points="87.5,73 133,88 87.5,103 42,88"/>
<text class="s" x="87.5" y="84.5" style="font-size:2.6px"><tspan x="87.5">Проникающее ранение грудной клетки или</tspan><tspan x="87.5" dy="3.6">признаки прогрессирующего</tspan><tspan x="87.5" dy="3.6">напряжённого пневмоторакса?</tspan></text>
<polygon class="d" points="212.5,73 258,88 212.5,103 167,88"/>
<text class="s" x="212.5" y="87" style="font-size:2.8px"><tspan x="212.5">Открытая рана грудной</tspan><tspan x="212.5" dy="3.7">клетки?</tspan></text>
<text class="lb" x="32" y="86">Нет</text><text class="lb" x="269" y="86">Нет</text>
<text class="lb" x="99" y="112">Да</text><text class="lb" x="223" y="112">Да</text>
<rect class="g" x="49" y="115" width="79" height="18"/>
<text class="s" x="88.5" y="122.5" style="font-size:3px"><tspan x="88.5">Подозревать / рассмотреть</tspan><tspan x="88.5" dy="4.2">напряжённый пневмоторакс</tspan></text>
<rect class="g" x="49" y="138" width="79" height="26"/>
<text class="s" x="88.5" y="144" style="font-size:3px"><tspan x="88.5">Декомпрессия грудной клетки иглой</tspan><tspan x="88.5" dy="4.6">в соответствующем месте</tspan><tspan x="88.5" dy="4.6">на стороне поражения.</tspan><tspan x="88.5" dy="4.6">Повторите при необходимости.</tspan></text>
<rect class="g" x="177" y="115" width="69" height="22"/>
<text class="s" x="211.5" y="122" style="font-size:3px"><tspan x="211.5">Наложите вентилируемый</tspan><tspan x="211.5" dy="4.3">окклюзионный пластырь на</tspan><tspan x="211.5" dy="4.3">все открытые раны</tspan></text>
<rect class="b" x="220" y="145" width="52" height="22"/>
<text class="s" x="246" y="151" style="font-size:2.6px"><tspan x="246">Если нет вентилируемого</tspan><tspan x="246" dy="3.6">пластыря, используйте</tspan><tspan x="246" dy="3.6">невентилируемый</tspan><tspan x="246" dy="3.6">окклюзионный пластырь</tspan></text>
<rect class="o" x="112" y="174" width="75" height="18"/>
<text class="s" x="149.5" y="181.5" style="font-size:3px"><tspan x="149.5">Если в наличии, пульсоксиметрия</tspan><tspan x="149.5" dy="4.2">и кислород, если это возможно</tspan></text>
<rect class="g" x="114" y="197" width="69" height="13"/>
<text class="s" x="148.5" y="202.5" style="font-size:3px"><tspan x="148.5">МОНИТОРИНГ НА ПРЕДМЕТ</tspan><tspan x="148.5" dy="4">НАПРЯЖЁННОГО ПНЕВМОТОРАКСА</tspan></text>
<rect class="ov" x="194" y="200" width="86" height="28" rx="14"/>
<text class="sl" x="202" y="207" style="font-size:2.6px"><tspan x="202" text-decoration="underline">Признаки напряжённого</tspan><tspan x="202" dy="3.7" text-decoration="underline">пневмоторакса:</tspan><tspan x="202" dy="3.7">1. Нарастающая одышка и дыхательная</tspan><tspan x="202" dy="3.7">недостаточность при ранении</tspan></text>
<rect class="g" x="15" y="206" width="79" height="26"/>
<text class="s" x="54.5" y="212" style="font-size:3px"><tspan x="54.5">Выполните иглу в межреберье</tspan><tspan x="54.5" dy="4.5">грудной клетки для снятия</tspan><tspan x="54.5" dy="4.5">пластыря. Повторите по мере</tspan><tspan x="54.5" dy="4.5">необходимости.</tspan></text>
<rect class="g" x="15" y="236" width="79" height="26"/>
<text class="s" x="54.5" y="242" style="font-size:3px"><tspan x="54.5">Игольчатая декомпрессия грудной</tspan><tspan x="54.5" dy="4.5">клетки в соответствующем</tspan><tspan x="54.5" dy="4.5">месте, если это показано.</tspan><tspan x="54.5" dy="4.5">Повторите при необходимости.</tspan></text>
<polygon class="d" points="149.5,220 198,235 149.5,250 101,235"/>
<text class="s" x="149.5" y="232" style="font-size:2.8px"><tspan x="149.5">Подозревается</tspan><tspan x="149.5" dy="3.7">напряжённый</tspan><tspan x="149.5" dy="3.7">пневмоторакс?</tspan></text>
<text class="lb" x="111" y="217">Да</text><text class="lb" x="157" y="258">Нет</text>
<rect class="o" x="114" y="272" width="69" height="28"/>
<text class="s" x="148.5" y="278" style="font-size:2.8px"><tspan x="148.5">Если подозревается умеренный</tspan><tspan x="148.5" dy="4.3">пневмоторакс, обеспечьте</tspan><tspan x="148.5" dy="4.3">дополнительный кислород, если это</tspan><tspan x="148.5" dy="4.3">возможно, для поддержания</tspan><tspan x="148.5" dy="4.3">SpO2 выше 90%</tspan></text>
<rect class="b" x="13" y="268" width="49" height="55"/>
<text class="sl" x="15.5" y="274" style="font-size:2.4px"><tspan x="15.5">Декомпрессия иглой:</tspan><tspan x="15.5" dy="3.5">14 калибр, 3,25 дюйма</tspan><tspan x="15.5" dy="3.5">катетер в 5 межреберье</tspan><tspan x="15.5" dy="3.5" text-decoration="underline">Место введения:</tspan><tspan x="15.5" dy="3.5">2-е межреберье по</tspan><tspan x="15.5" dy="3.5">среднеключичной линии</tspan><tspan x="15.5" dy="3.5" text-decoration="underline">Альтернативное место:</tspan><tspan x="15.5" dy="3.5">4-5 межреберье по</tspan><tspan x="15.5" dy="3.5">передней подмышечной</tspan><tspan x="15.5" dy="3.5">линии</tspan></text>
<rect class="g" x="236" y="275" width="45" height="18"/>
<text class="lg2" x="258.5" y="281"><tspan x="258.5">Выполняется во время</tspan><tspan x="258.5" dy="3.4">нахождения под огнём</tspan><tspan x="258.5" dy="3.4">или боевого контакта</tspan></text>
<rect class="o" x="236" y="295" width="45" height="17"/>
<text class="lg2" x="258.5" y="301"><tspan x="258.5">Выполняется во время</tspan><tspan x="258.5" dy="3.4">тактического ухода</tspan><tspan x="258.5" dy="3.4">в полевых условиях</tspan></text>
<rect class="r" x="236" y="314" width="45" height="21"/>
<text class="lg2" x="258.5" y="320"><tspan x="258.5">Выполняется во время</tspan><tspan x="258.5" dy="3.4">тактической эвакуации</tspan><tspan x="258.5" dy="3.4">пострадавших TCCC</tspan><tspan x="258.5" dy="3.4">Medic</tspan></text>
<rect class="hd" x="93" y="312" width="112" height="18"/>
<text class="h" x="149" y="319.5"><tspan x="149">ПРОДОЛЖИТЬ ТАКТИЧЕСКУЮ ПОМОЩЬ</tspan><tspan x="149" dy="5">В ПОЛЕВЫХ УСЛОВИЯХ</tspan></text>
</g>
</svg>
</body></html>
